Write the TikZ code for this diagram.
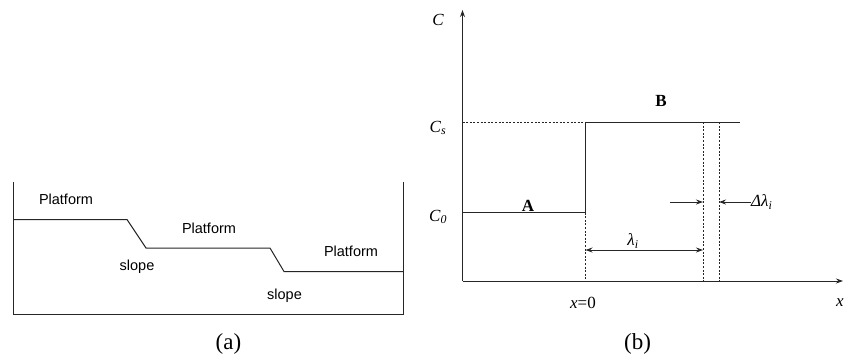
\documentclass[tikz,border=0pt]{standalone}
\usepackage{fontspec}
\setmainfont{Liberation Serif}
\newfontfamily\sansf{Liberation Sans}
\usetikzlibrary{arrows.meta}
\begin{document}
\begin{tikzpicture}[x=1pt,y=-1pt,
  ln/.style={line width=1pt,black!85},
  dsh/.style={line width=0.9pt,black!85,dash pattern=on 2pt off 1.6pt},
  arr/.style={line width=1pt,black!85,-{Stealth[length=7pt,width=5pt]}},
  darr/.style={line width=1pt,black!85,{Stealth[length=7pt,width=5pt]}-{Stealth[length=7pt,width=5pt]}},
  sl/.style={font=\sansf\fontsize{14.5}{16}\selectfont,inner sep=0pt},
  sr/.style={font=\fontsize{17}{19}\selectfont,inner sep=0pt},
  captxt/.style={font=\fontsize{23}{25}\selectfont,inner sep=0pt}]
\useasboundingbox (0,0) rectangle (852,360);
% ---- panel (a)
\coordinate (tl) at (13,182);
\coordinate (bl) at (13,314);
\coordinate (br) at (403,314);
\coordinate (tr) at (403,182);
\draw[ln] (tl) -- (bl) -- (br) -- (tr);
\coordinate (p1) at (13,219.5);
\coordinate (p2) at (127,219.5);
\coordinate (p3) at (146,248);
\coordinate (p4) at (270,248);
\coordinate (p5) at (284,271.5);
\coordinate (p6) at (403,271.5);
\draw[ln] (p1) -- (p2) -- (p3) -- (p4) -- (p5) -- (p6);
\node[sl] (pl1) at (66,199) {Platform};
\node[sl] (pl2) at (209,228) {Platform};
\node[sl] (pl3) at (351,251) {Platform};
\node[sl] (sl1) at (137,267) {slope};
\node[sl] (sl2) at (284.5,295.5) {slope};
\node[captxt] (capa) at (228.5,344) {(a)};
% ---- panel (b)
\coordinate (o) at (462.5,281);
\coordinate (ytop) at (462.5,10);
\coordinate (xend) at (843,281);
\draw[arr] (o) -- (ytop);
\draw[arr] (o) -- (xend);
\coordinate (csl) at (462.5,122);
\coordinate (x0s) at (585.5,122);
\coordinate (bend) at (740,122);
\coordinate (c0l) at (462.5,212.5);
\coordinate (x0a) at (585.5,212.5);
\coordinate (x0b) at (585.5,281);
\draw[dsh] (csl) -- (x0s);
\draw[ln] (c0l) -- (x0a) -- (x0s) -- (bend);
\draw[dsh] (x0a) -- (x0b);
\coordinate (d1t) at (703,122);
\coordinate (d1b) at (703,281);
\coordinate (d2t) at (719,122);
\coordinate (d2b) at (719,281);
\draw[dsh] (d1t) -- (d1b);
\draw[dsh] (d2t) -- (d2b);
\coordinate (la) at (585.5,250);
\coordinate (lb) at (703,250);
\draw[darr] (la) -- (lb);
\coordinate (dl1) at (670,202);
\coordinate (dl2) at (703,202);
\coordinate (dr1) at (751,202);
\coordinate (dr2) at (719,202);
\draw[arr] (dl1) -- (dl2);
\draw[arr] (dr1) -- (dr2);
\node[sr] (lam) at (633,241) {\textit{λ}\textsubscript{\textit{i}}};
\node[sr,anchor=west] (dlam) at (751,202) {\textit{Δλ}\textsubscript{\textit{i}}};
\node[sr] (labB) at (661,101) {\textbf{B}};
\node[sr] (labA) at (528,206) {\textbf{A}};
\node[sr] (labC) at (438,20) {\textit{C}};
\node[sr] (labCs) at (438,128) {\textit{C}\textsubscript{\textit{s}}};
\node[sr] (labC0) at (438,217) {\textit{C}\textsubscript{\textit{0}}};
\node[sr] (labx0) at (583,303) {\textit{x}=0};
\node[sr] (labx) at (840,303) {\textit{x}};
\node[captxt] (capb) at (637.5,344) {(b)};
\end{tikzpicture}
\end{document}
